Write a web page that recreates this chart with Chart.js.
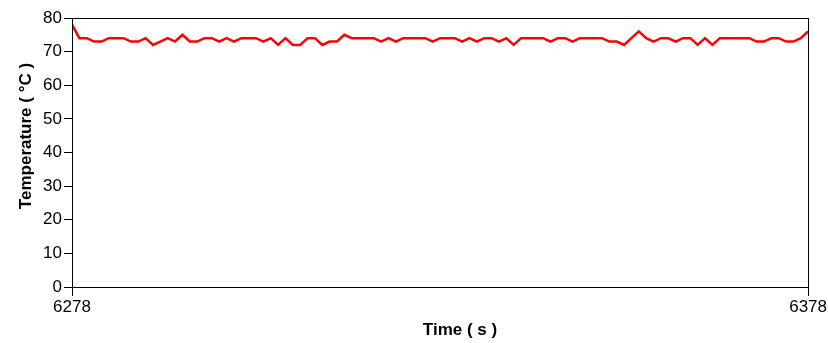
<!DOCTYPE html>
<html>
<head>
<meta charset="utf-8">
<script src="https://cdn.jsdelivr.net/npm/chart.js@4/dist/chart.umd.min.js"></script>
<style>
  html, body { margin: 0; padding: 0; background: #ffffff; }
  #wrap { width: 828px; height: 343px; position: relative; }
</style>
</head>
<body>
<div id="wrap"><canvas id="chart" width="828" height="343"></canvas></div>
<script>
// Sample times (s)
const times = [
  6278, 6279, 6280, 6281, 6282, 6283, 6284, 6285, 6286, 6287,
  6288, 6289, 6290, 6291, 6292, 6293, 6294, 6295, 6296, 6297,
  6298, 6299, 6300, 6301, 6302, 6303, 6304, 6305, 6306, 6307,
  6308, 6309, 6310, 6311, 6312, 6313, 6314, 6315, 6316, 6317,
  6318, 6319, 6320, 6321, 6322, 6323, 6324, 6325, 6326, 6327,
  6328, 6329, 6330, 6331, 6332, 6333, 6334, 6335, 6336, 6337,
  6338, 6339, 6340, 6341, 6342, 6343, 6344, 6345, 6346, 6347,
  6348, 6349, 6350, 6351, 6352, 6353, 6354, 6355, 6356, 6357,
  6358, 6359, 6360, 6361, 6362, 6363, 6364, 6365, 6366, 6367,
  6368, 6369, 6370, 6371, 6372, 6373, 6374, 6375, 6376, 6377,
  6378
];

// Temperature readings (°C)
const temperature = [
  78, 74, 74, 73, 73, 74, 74, 74, 73, 73,
  74, 72, 73, 74, 73, 75, 73, 73, 74, 74,
  73, 74, 73, 74, 74, 74, 73, 74, 72, 74,
  72, 72, 74, 74, 72, 73, 73, 75, 74, 74,
  74, 74, 73, 74, 73, 74, 74, 74, 74, 73,
  74, 74, 74, 73, 74, 73, 74, 74, 73, 74,
  72, 74, 74, 74, 74, 73, 74, 74, 73, 74,
  74, 74, 74, 73, 73, 72, 74, 76, 74, 73,
  74, 74, 73, 74, 74, 72, 74, 72, 74, 74,
  74, 74, 74, 73, 73, 74, 74, 73, 73, 74,
  76
];

const xTickValues = [6278, 6378];
const yTickValues = [0, 10, 20, 30, 40, 50, 60, 70, 80];

const xTitle = 'Time ( s )';
const yTitle = 'Temperature ( °C )';

const tickFont = { family: '"Liberation Sans Narrow", "Liberation Sans", Arial, sans-serif', size: 17 };
const titleFont = 'bold 17px "Liberation Sans", Arial, sans-serif';

// Frame around the plot area plus the two axis titles
const framePlugin = {
  id: 'frameAndTitles',
  afterDraw(chart) {
    const { ctx, chartArea: a } = chart;
    ctx.save();
    ctx.strokeStyle = '#000000';
    ctx.lineWidth = 1;
    ctx.strokeRect(Math.round(a.left) + 0.5, Math.round(a.top) + 0.5,
                   Math.round(a.right - a.left), Math.round(a.bottom - a.top));

    ctx.fillStyle = '#000000';
    ctx.font = titleFont;
    ctx.textAlign = 'center';
    ctx.textBaseline = 'middle';
    ctx.fillText(xTitle, 460, 330);

    ctx.translate(26, 136);
    ctx.rotate(-Math.PI / 2);
    ctx.fillText(yTitle, 0, 0);
    ctx.restore();
  }
};

new Chart(document.getElementById('chart'), {
  type: 'line',
  data: {
    datasets: [{
      data: times.map((t, i) => ({ x: t, y: temperature[i] })),
      borderColor: '#ff0000',
      borderWidth: 2.5,
      pointRadius: 0,
      tension: 0,
      fill: false
    }]
  },
  options: {
    responsive: false,
    animation: false,
    devicePixelRatio: 1,
    layout: { padding: { left: 0, right: 18, top: 18, bottom: 0 } },
    plugins: { legend: { display: false }, tooltip: { enabled: false } },
    scales: {
      x: {
        type: 'linear',
        min: 6278,
        max: 6378,
        afterBuildTicks(scale) { scale.ticks = xTickValues.map(v => ({ value: v })); },
        afterFit(scale) { scale.height = 56; },
        grid: { drawOnChartArea: false, tickLength: 9, tickColor: '#000000', tickWidth: 1 },
        border: { color: '#000000', width: 1 },
        ticks: { color: '#000000', font: tickFont, padding: 1, maxRotation: 0, autoSkip: false,
                 callback: v => String(v) }
      },
      y: {
        min: 0,
        max: 80,
        afterBuildTicks(scale) { scale.ticks = yTickValues.map(v => ({ value: v })); },
        afterFit(scale) { scale.width = 72; },
        grid: { drawOnChartArea: false, tickLength: 8, tickColor: '#000000', tickWidth: 1 },
        border: { color: '#000000', width: 1 },
        ticks: { color: '#000000', font: tickFont, padding: 2, autoSkip: false }
      }
    }
  },
  plugins: [framePlugin]
});
</script>
</body>
</html>
